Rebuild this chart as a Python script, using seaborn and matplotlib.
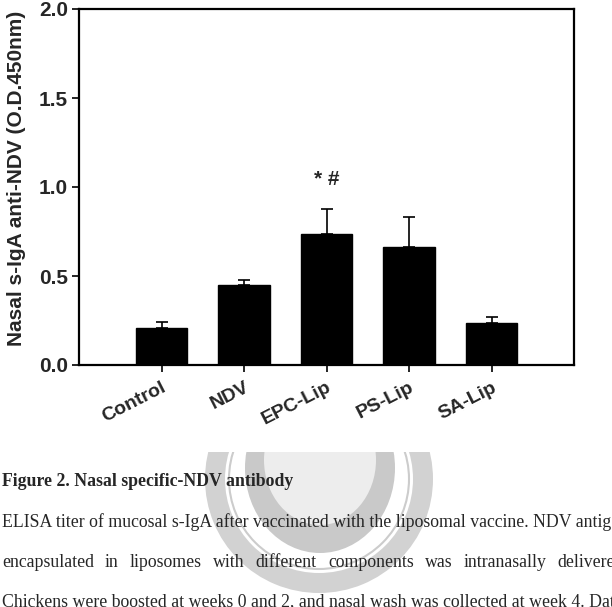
import numpy as np
import pandas as pd
import seaborn as sns
from matplotlib import pyplot as plt
from matplotlib.patches import Wedge, Ellipse, Rectangle, Circle

# Data
groups = ["Control", "NDV", "EPC-Lip", "PS-Lip", "SA-Lip"]
means = [0.21, 0.45, 0.735, 0.665, 0.237]
sems = [0.033, 0.028, 0.14, 0.168, 0.034]
mark_text = "* #"
mark_group = "EPC-Lip"
mark_y = 1.04

caption_title = "Figure 2. Nasal specific-NDV antibody"
caption_lines = [
    "ELISA titer of mucosal s-IgA after vaccinated with the liposomal vaccine. NDV antigen",
    "encapsulated in liposomes with different components was intranasally delivered.",
    "Chickens were boosted at weeks 0 and 2, and nasal wash was collected at week 4. Data",
]

df = pd.DataFrame({"group": groups, "value": means})

sns.set_style("white")
plt.rcParams["font.family"] = ["Liberation Sans", "DejaVu Sans"]

W, H = 612, 607
fig = plt.figure(figsize=(W / 100, H / 100), dpi=100)

# faint watermark seal behind the caption (figure pixel coords)
bg = fig.add_axes([0, 0, 1, 1], zorder=-5)
bg.set_xlim(0, W)
bg.set_ylim(H, 0)
bg.axis("off")
clip = Rectangle((0, 452), W, H - 452, transform=bg.transData)
seal = [
    Wedge((319, 479), 114, 0, 360, width=20, facecolor="#d2d2d2", edgecolor="none"),
    Circle((319, 479), 90, facecolor="none", edgecolor="#cccccc", linewidth=1.5),
    Ellipse((320, 468), 150, 170, facecolor="#c9c9c9", edgecolor="none"),
    Ellipse((320, 460), 112, 130, facecolor="#ededed", edgecolor="none"),
]
for p in seal:
    bg.add_patch(p)
    p.set_clip_path(clip)

ax = fig.add_axes([79 / W, 1 - 365 / H, (574 - 79) / W, (365 - 9) / H])
sns.barplot(data=df, x="group", y="value", color="black", saturation=1,
            width=0.63, edgecolor="black", ax=ax)
xs = np.arange(len(groups))
ax.errorbar(xs, means, yerr=[np.zeros(len(sems)), sems], fmt="none",
            ecolor="black", elinewidth=1.2, capsize=4.3, capthick=1.2, zorder=1)

ax.set_xlim(-1, 5)
ax.set_ylim(0, 2.0)
ax.set_yticks([0, 0.5, 1.0, 1.5, 2.0])
ax.set_yticklabels(["0.0", "0.5", "1.0", "1.5", "2.0"], fontweight="bold", fontsize=15)
ax.set_xticks(xs)
ax.set_xticklabels(groups, rotation=27, ha="right", rotation_mode="anchor",
                   fontweight="bold", fontsize=14)
ax.tick_params(axis="both", direction="out", length=5, width=1.2, color="black",
               bottom=True, left=True, pad=3)
ax.tick_params(axis="x", pad=5)
ax.set_xlabel("")
ax.set_ylabel("Nasal s-IgA anti-NDV (O.D.450nm)", fontweight="bold", fontsize=15)
ax.yaxis.set_label_coords(-0.108, 0.525)
for s in ax.spines.values():
    s.set_visible(True)
    s.set_color("black")
    s.set_linewidth(1.6)

ax.text(groups.index(mark_group), mark_y, mark_text, ha="center", va="center",
        fontweight="bold", fontsize=15)

# caption below the chart
serif = ["Liberation Serif", "DejaVu Serif"]
fs = 12.8
fig.text(2 / W, 1 - 486 / H, caption_title, family=serif, fontweight="bold", fontsize=fs)
t1 = fig.text(2 / W, 1 - 527 / H, caption_lines[0], family=serif, fontsize=fs)
fig.text(2 / W, 1 - 606 / H, caption_lines[2], family=serif, fontsize=fs)

# justify the second line to the width of the first
fig.canvas.draw()
r = fig.canvas.get_renderer()
right = t1.get_window_extent(r).x1
words = caption_lines[1].split()
arts = [fig.text(0, 1 - 567 / H, w_, family=serif, fontsize=fs) for w_ in words]
widths = [a.get_window_extent(r).width for a in arts]
gap = (right - 2 - sum(widths)) / (len(words) - 1)
x = 2
for a, w_ in zip(arts, widths):
    a.set_x(x / W)
    x += w_ + gap

fig.savefig("out.png", dpi=100)
